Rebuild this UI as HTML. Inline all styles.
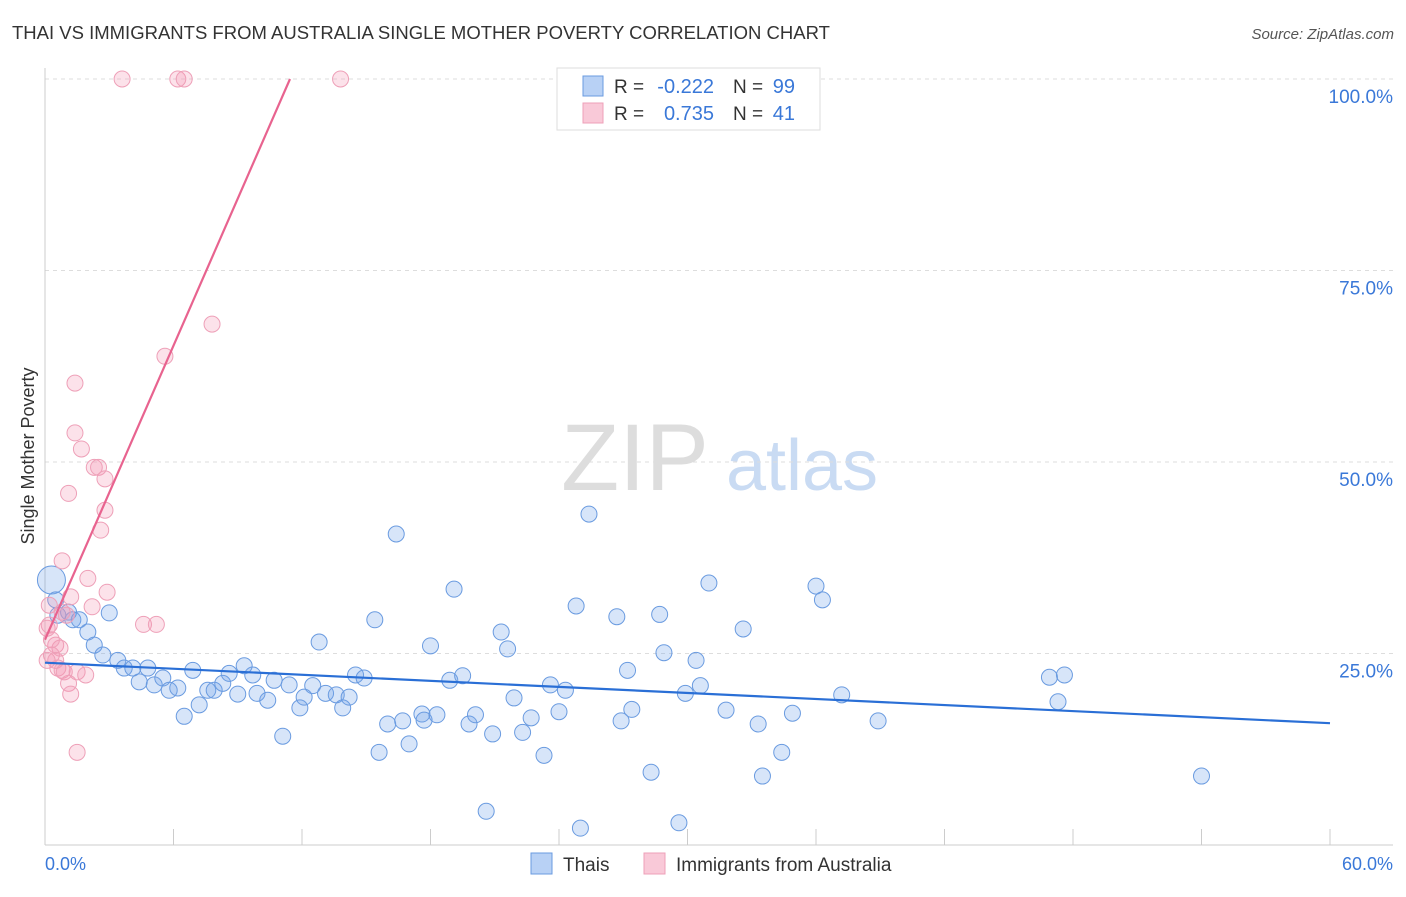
<!DOCTYPE html>
<html><head><meta charset="utf-8"><style>
body{margin:0;background:#fff;font-family:"Liberation Sans",sans-serif;}
svg text{font-family:"Liberation Sans",sans-serif;}
</style></head><body>
<svg id="chart" width="1406" height="892">
<text x="12" y="39" font-size="18.5" fill="#333">THAI VS IMMIGRANTS FROM AUSTRALIA SINGLE MOTHER POVERTY CORRELATION CHART</text>
<text x="1394" y="39" font-size="15" fill="#555" font-style="italic" text-anchor="end">Source: ZipAtlas.com</text>
<g>
<text x="635" y="490" font-size="95" fill="#ddd" font-family="Liberation Serif,serif" text-anchor="middle">ZIP</text>
<text x="802" y="490" font-size="72" fill="#c9dbf3" text-anchor="middle">atlas</text>
</g>
<g id="grid"></g>
<g id="axes"></g>
<g id="marks"></g>
<text transform="translate(34,456) rotate(-90)" font-size="18" fill="#333" text-anchor="middle">Single Mother Poverty</text>
<text x="45" y="870" font-size="18" fill="#3a78d8">0.0%</text>
<text x="1393" y="870" font-size="18" fill="#3a78d8" text-anchor="end">60.0%</text>
<g>
<rect x="557" y="68" width="263" height="62" fill="#fff" stroke="#ddd"/>
<rect x="583" y="76" width="20" height="20" fill="#b8d1f5" stroke="#6a9be0"/>
<text x="614" y="93" font-size="19" fill="#333">R =</text>
<text x="714" y="93" font-size="20" fill="#3a78d8" text-anchor="end">-0.222</text>
<text x="733" y="93" font-size="19" fill="#333">N =</text>
<text x="795" y="93" font-size="20" fill="#3a78d8" text-anchor="end">99</text>
<rect x="583" y="103" width="20" height="20" fill="#f9c9d8" stroke="#eea0b8"/>
<text x="614" y="120" font-size="19" fill="#333">R =</text>
<text x="714" y="120" font-size="20" fill="#3a78d8" text-anchor="end">0.735</text>
<text x="733" y="120" font-size="19" fill="#333">N =</text>
<text x="795" y="120" font-size="20" fill="#3a78d8" text-anchor="end">41</text>
</g>
<g>
<rect x="531" y="853" width="21" height="21" fill="#b8d1f5" stroke="#6a9be0"/>
<text x="563" y="871" font-size="19" fill="#333">Thais</text>
<rect x="644" y="853" width="21" height="21" fill="#f9c9d8" stroke="#eea0b8"/>
<text x="676" y="871" font-size="19" fill="#333">Immigrants from Australia</text>
</g>
</svg>
<script>
const yTicks=[25,50,75,100];
const yTickLabels=["25.0%","50.0%","75.0%","100.0%"];
const xTicks=[0,6,12,18,24,30,36,42,48,54,60];
const thaiX=[0.3,0.5,0.6,1.1,1.3,1.6,2.0,2.3,2.7,3.0,3.4,3.7,4.1,4.4,4.8,5.1,5.5,5.8,6.2,6.5,6.9,7.2,7.6,7.9,8.3,8.6,9.0,9.3,9.7,9.9,10.4,10.7,11.1,11.4,11.9,12.1,12.5,12.8,13.1,13.6,13.9,14.2,14.5,14.9,15.4,15.6,16.0,16.4,16.7,17.0,17.6,17.7,18.0,18.3,18.9,19.1,19.5,19.8,20.1,20.6,20.9,21.3,21.6,21.9,22.3,22.7,23.3,23.6,24.0,24.3,24.8,25.0,25.4,26.7,26.9,27.2,27.4,28.3,28.7,28.9,29.6,29.9,30.4,30.6,31.0,31.8,32.6,33.3,33.5,34.4,34.9,36.0,36.3,37.2,38.9,46.9,47.3,47.6,54.0];
const thaiY=[34.6,32.0,30.0,30.4,29.4,29.4,27.8,26.1,24.8,30.3,24.1,23.1,23.1,21.3,23.1,20.9,21.8,20.2,20.5,16.8,22.8,18.3,20.2,20.2,21.1,22.4,19.7,23.4,22.2,19.8,18.9,21.5,14.2,20.9,17.9,19.3,20.8,26.5,19.8,19.6,17.9,19.3,22.2,21.8,29.4,12.1,15.8,40.6,16.2,13.2,17.1,16.3,26.0,17.0,21.5,33.4,22.1,15.8,17.0,4.4,14.5,27.8,25.6,19.2,14.7,16.6,11.7,20.9,17.4,20.2,31.2,2.2,43.2,29.8,16.2,22.8,17.7,9.5,30.1,25.1,2.9,19.8,24.1,20.8,34.2,17.6,28.2,15.8,9.0,12.1,17.2,33.8,32.0,19.6,16.2,21.9,18.7,22.2,9.0];
const ausX=[3.6,6.2,6.5,13.8,7.8,5.6,1.4,1.4,1.7,2.3,2.5,2.8,1.1,2.8,2.6,0.8,2.0,2.9,1.2,2.2,0.8,1.0,0.2,0.1,0.5,0.7,0.3,0.1,0.5,0.6,0.8,0.9,1.5,1.9,1.1,1.2,1.5,4.6,5.2,0.2,0.3];
const ausY=[100,100,100,100,68.0,63.8,60.3,53.8,51.7,49.3,49.3,47.8,45.9,43.7,41.1,37.1,34.8,33.0,32.4,31.1,30.4,30.0,28.7,28.3,26.1,25.7,24.8,24.1,24.1,23.1,22.8,22.6,22.6,22.2,21.1,19.7,12.1,28.8,28.8,31.3,26.8];
const thaiTrend=[23.8,15.9];
const ausTrend=[26.8,100];
const ausTrendXEnd=11.44;

const NS="http://www.w3.org/2000/svg";
const X0=45,X1=1330,Y0=845,Y100=79;
const sx=v=>X0+(v/60)*(X1-X0);
const sy=v=>Y0-(v/100)*(Y0-Y100);
function mk(tag,attrs,parent){const e=document.createElementNS(NS,tag);for(const k in attrs)e.setAttribute(k,attrs[k]);document.getElementById(parent).appendChild(e);return e;}

yTicks.forEach((t,i)=>{
  const l=mk('line',{x1:X0,x2:1393,y1:sy(t),y2:sy(t),stroke:'#ddd','stroke-dasharray':'4,4'},'grid');
  
  
  const tx=mk('text',{x:1393,y:sy(t)+24,'font-size':19,fill:'#3a78d8','text-anchor':'end'},'grid');
  tx.textContent=yTickLabels[i];
  
  
});
const la=mk('line',{x1:X0,x2:X0,y1:68,y2:Y0,stroke:'#ccc'},'axes');


const lb=mk('line',{x1:X0,x2:1393,y1:Y0,y2:Y0,stroke:'#ccc'},'axes');


xTicks.forEach(t=>{
  const l=mk('line',{x1:sx(t),x2:sx(t),y1:Y0,y2:Y0-16,stroke:'#ccc'},'axes');
  
  
});

thaiX.forEach((x,i)=>{
  const c=mk('circle',{cx:sx(x),cy:sy(thaiY[i]),r:i===0?14:8,fill:'rgba(110,160,235,0.28)',stroke:'#6a9be0','stroke-width':1},'marks');
  
  
});
ausX.forEach((x,i)=>{
  const c=mk('circle',{cx:sx(x),cy:sy(ausY[i]),r:8,fill:'rgba(245,150,180,0.28)',stroke:'#eea0b8','stroke-width':1},'marks');
  
  
});
const t1=mk('line',{x1:sx(0),y1:sy(thaiTrend[0]),x2:sx(60),y2:sy(thaiTrend[1]),stroke:'#2a6fd6','stroke-width':2.2},'marks');


const t2=mk('line',{x1:sx(0),y1:sy(ausTrend[0]),x2:sx(ausTrendXEnd),y2:sy(ausTrend[1]),stroke:'#e8638f','stroke-width':2.2},'marks');


</script>
</body></html>
